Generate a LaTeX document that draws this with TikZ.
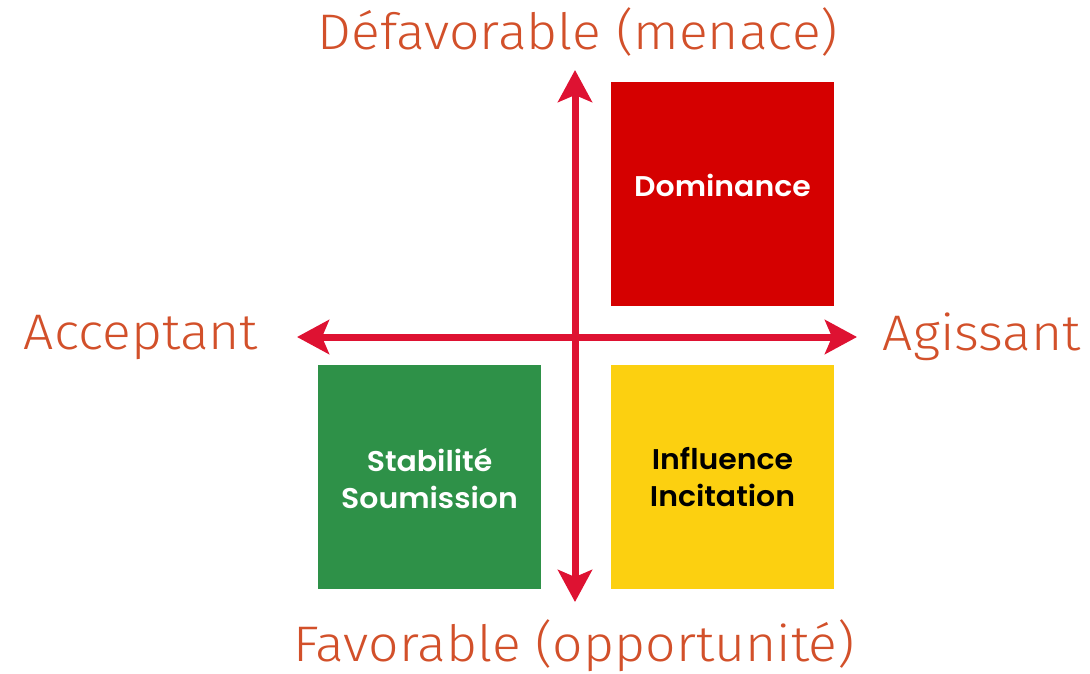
\documentclass[tikz,border=0pt]{standalone}
\usepackage{fontspec}
\usetikzlibrary{arrows.meta}
\newfontfamily\labfont{Fira Sans Light}[FakeStretch=1.07]
\newfontfamily\boxfont{Poppins SemiBold}[FakeStretch=1.05]
\definecolor{labcol}{RGB}{210,80,42}
\definecolor{axiscol}{RGB}{222,18,50}
\definecolor{domred}{RGB}{213,0,0}
\definecolor{stagreen}{RGB}{46,145,72}
\definecolor{infyellow}{RGB}{252,208,16}
\begin{document}
\begin{tikzpicture}[x=1pt,y=-1pt,
  axislbl/.style={text=labcol,font=\labfont\fontsize{50}{60}\selectfont,inner sep=0pt},
  quad/.style={minimum width=223pt,minimum height=224pt,inner sep=0pt},
  quadtext/.style={inner sep=0pt,align=center,font=\boxfont\fontsize{28.5}{37}\selectfont},
  axisline/.style={draw=axiscol,line width=7pt,
     {Stealth[length=32pt,width=34pt,inset=7pt]}-{Stealth[length=32pt,width=34pt,inset=7pt]}}]
\useasboundingbox (0,0) rectangle (1090,673);
\node[quad,fill=domred] (dom) at (722.5,194) {};
\node[quad,fill=stagreen] (sta) at (429.5,476.5) {};
\node[quad,fill=infyellow] (inf) at (722.5,476.5) {};
\node[quadtext,text=white] (domt) at (722.5,185) {Dominance};
\node[quadtext,text=white] (stat) at (429.5,479) {Stabilité\\Soumission};
\node[quadtext,text=black] (inft) at (722.5,477) {Influence\\Incitation};
\coordinate (top) at (575,70);
\coordinate (bot) at (575,602);
\coordinate (lft) at (297,337);
\coordinate (rgt) at (857,337);
\draw[axisline] (bot) -- (top);
\draw[axisline] (lft) -- (rgt);
\node[axislbl] (tlab) at (578,32) {Défavorable (menace)};
\node[axislbl] (blab) at (574,646) {Favorable (opportunité)};
\node[axislbl] (llab) at (141,337) {Acceptant};
\node[axislbl] (rlab) at (982,337) {Agissant};
\end{tikzpicture}
\end{document}
